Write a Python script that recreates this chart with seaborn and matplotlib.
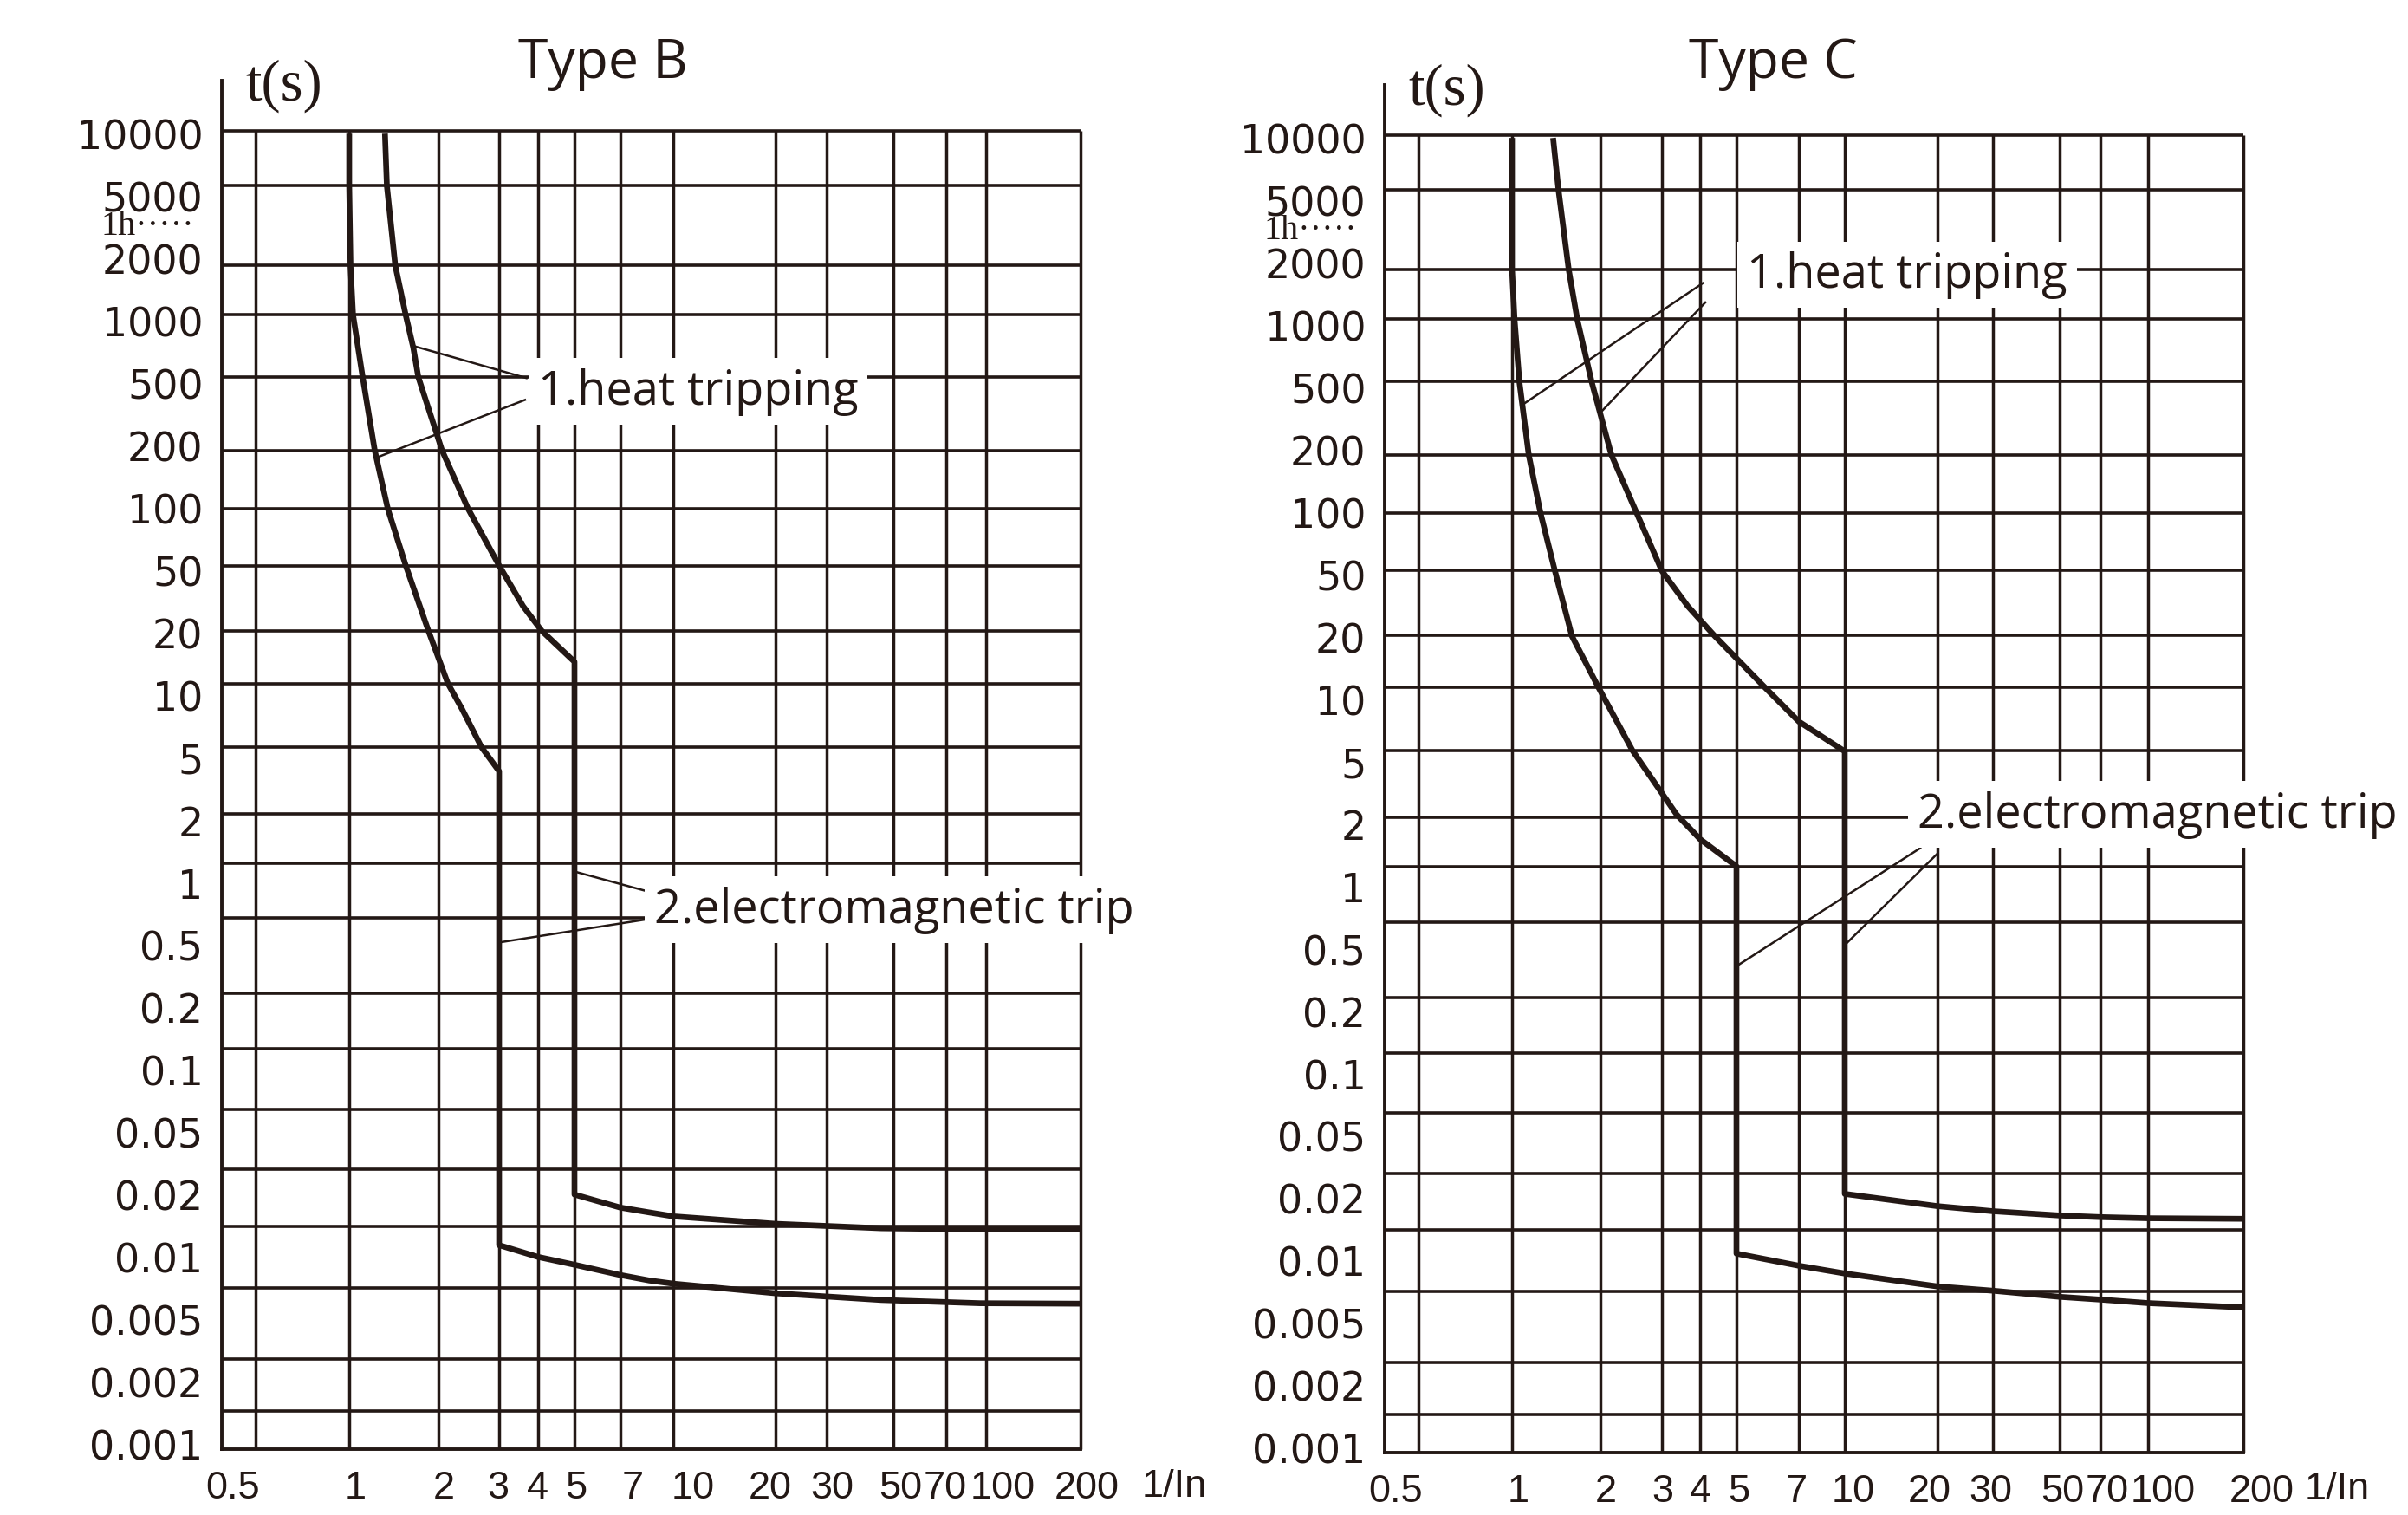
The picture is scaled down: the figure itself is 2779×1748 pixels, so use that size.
import numpy as np
import matplotlib
matplotlib.use("Agg")
import matplotlib.pyplot as plt
import matplotlib.transforms as mtransforms
from matplotlib.ticker import NullLocator
import seaborn as sns

# 1. DATA
# time axis (s): labels are evenly spaced, 1-2-5 steps
T_TICKS = [10000, 5000, 2000, 1000, 500, 200, 100, 50, 20, 10, 5, 2, 1,
           0.5, 0.2, 0.1, 0.05, 0.02, 0.01, 0.005, 0.002, 0.001]
T_LABELS = ['10000', '5000', '2000', '1000', '500', '200', '100', '50', '20', '10',
            '5', '2', '1', '0.5', '0.2', '0.1', '0.05', '0.02', '0.01', '0.005',
            '0.002', '0.001']
# current axis (multiple of In)
I_TICKS = [0.5, 1, 2, 3, 4, 5, 7, 10, 20, 30, 50, 70, 100, 200]
I_LABELS = ['0.5', '1', '2', '3', '4', '5', '7', '10', '20', '30', '50', '70', '100', '200']

# Type B: lower curve (1) and upper curve (2)
B1_X = [1.0, 1.0, 1.01, 1.03, 1.11, 1.22, 1.35, 1.55, 1.85, 2.13, 2.34, 2.67, 3.0,
        3.0, 4.0, 5.0, 7.0, 8.5, 10, 20, 45.6, 94.7, 200]
B1_T = [10000, 5600, 1850, 1070, 536, 189, 99, 53, 20.6, 11.4, 8.6, 5.6, 4.1,
        0.0114, 0.0100, 0.00917, 0.00818, 0.0077, 0.00743, 0.00668, 0.0062, 0.00598, 0.00595]
B2_X = [1.32, 1.34, 1.43, 1.55, 1.645, 1.71, 2.05, 2.44, 3.0, 3.58, 4.09, 5.0,
        5.0, 7.0, 8.5, 10, 20, 45.6, 94.7, 200]
B2_T = [10000, 5600, 1850, 1070, 743, 536, 189, 99, 52.8, 29.6, 20.6, 14.5,
        0.0200, 0.0173, 0.0164, 0.0157, 0.01445, 0.01375, 0.01358, 0.01356]

# Type C: lower curve (1) and upper curve (2)
C1_X = [1.0, 1.0, 1.0, 1.02, 1.06, 1.14, 1.25, 1.40, 1.60, 1.97, 2.47, 3.35, 4.0, 5.0,
        5.0, 7.0, 10, 20, 30, 50, 70, 100, 200]
C1_T = [10000, 5600, 1850, 1056, 528, 189, 99, 52, 20.2, 11.4, 5.66, 2.30, 1.69, 1.25,
        0.0108, 0.00944, 0.00866, 0.0075, 0.00715, 0.00668, 0.00648, 0.00623, 0.00594]
C2_X = [1.38, 1.44, 1.56, 1.67, 1.87, 2.15, 2.54, 3.0, 3.65, 4.38, 5.78, 7.0, 10.0,
        10.0, 20, 30, 50, 70, 100, 200]
C2_T = [10000, 5600, 1850, 1056, 528, 189, 99, 52, 31.3, 20.2, 11.6, 7.8, 5.6,
        0.0213, 0.0183, 0.0173, 0.0165, 0.0162, 0.0160, 0.0159]

HEAT_TEXT = '1.heat tripping'
MAG_TEXT = '2.electromagnetic trip'

# 2. LAYOUT / STYLE
INK = '#231815'
# rows (in label steps from the 10000 label) where the hand drawn grid lines sit
GRID_ROWS = [-0.04, 0.83, 2.11, 2.90, 3.90, 5.08, 6.01, 6.93, 7.97, 8.81, 9.83, 10.9,
             11.69, 12.57, 13.78, 14.67, 15.63, 16.6, 17.51, 18.5, 19.64, 20.47]
ROW_TOP, ROW_BOTTOM = -0.85, 21.08
# pixel columns of the hand drawn vertical lines (one per current tick)
X_LINES_B = [295, 403, 506, 576, 621, 663, 716, 777, 895, 954, 1031, 1092, 1138, 1247]
X_LINES_C = [1637, 1745, 1847, 1918, 1962, 2004, 2076, 2129, 2236, 2300, 2377, 2424, 2479, 2589]
SPINE_OFFSET_PX = -39
X_SHIFT_B = [-26, 7, 6, -1, 0, 2, 14, 23, -6, 6, 8, -1, 19, 7]
X_SHIFT_C = [-26, 7, 6, 1, 1, 3, -3, 10, -9, -3, 3, 8, 17, 21]

# time scale: every 1-2-5 step gets the same height
T_STEPS = [1e5, 5e4, 2e4] + T_TICKS + [5e-4, 2e-4, 1e-4]
STEP_LOG = np.log10(T_STEPS)[::-1]
STEP_POS = (3 - np.arange(len(T_STEPS)))[::-1].astype(float)


def t_forward(v):
    v = np.clip(np.asarray(v, dtype=float), 1e-12, None)
    return np.interp(np.log10(v), STEP_LOG, STEP_POS)


def t_inverse(p):
    return 10 ** np.interp(np.asarray(p, dtype=float), STEP_POS, STEP_LOG)


def make_x_scale(lines):
    # log-like current axis following the drawn vertical lines
    lg = np.log10(I_TICKS)
    rel = np.asarray(lines, dtype=float) - lines[0]
    lg = np.r_[2 * lg[0] - lg[1], lg, 2 * lg[-1] - lg[-2]]
    rel = np.r_[2 * rel[0] - rel[1], rel, 2 * rel[-1] - rel[-2]]

    def fwd(v):
        v = np.clip(np.asarray(v, dtype=float), 1e-12, None)
        return np.interp(np.log10(v), lg, rel)

    def inv(p):
        return 10 ** np.interp(np.asarray(p, dtype=float), rel, lg)
    return fwd, inv


def on_curve(xs, ts, t):
    # x of a curve at time t (curves fall monotonically in t)
    lx = np.interp(np.log10(t), np.log10(ts)[::-1], np.log10(xs)[::-1])
    return 10 ** lx, t


sns.set_theme(style="white")
plt.rcParams['font.family'] = ['DejaVu Sans']

fig = plt.figure(figsize=(27.79, 17.49), dpi=100)

panels = [
    dict(rect=[256 / 2779, 1 - 1673 / 1749, 991 / 2779, 1579 / 1749],
         title='Type B', title_xy=(0.444, 1.0025),
         x_lines=X_LINES_B, x_shift=X_SHIFT_B,
         curves=[(B1_X, B1_T), (B2_X, B2_T)],
         heat=dict(xy=(4.0, 445), leaders=[(1, 758, (3.7, 528)), (0, 175, (3.66, 394))]),
         mag=dict(xy=(8.8, 0.74), leaders=[(1, 1.13, (8.54, 0.90)), (0, 0.514, (8.54, 0.668))])),
    dict(rect=[1598 / 2779, 1 - 1677 / 1749, 991 / 2779, 1578 / 1749],
         title='Type C', title_xy=(0.452, 1.0057),
         x_lines=X_LINES_C, x_shift=X_SHIFT_C,
         curves=[(C1_X, C1_T), (C2_X, C2_T)],
         heat=dict(xy=(5.29, 1750), leaders=[(0, 387, (4.09, 1603)), (1, 340, (4.15, 1297))]),
         mag=dict(xy=(17.2, 2.30), leaders=[(0, 0.387, (17.7, 1.54)), (1, 0.521, (20, 1.44))])),
]

for p in panels:
    ax = fig.add_axes(p['rect'])

    for xs, ts in p['curves']:
        sns.lineplot(x=xs, y=ts, ax=ax, sort=False, estimator=None, color=INK,
                     linewidth=4.8, solid_joinstyle='round', solid_capstyle='butt', zorder=3)

    x_fwd, x_inv = make_x_scale(p['x_lines'])
    ax.set_xscale('function', functions=(x_fwd, x_inv))
    ax.set_yscale('function', functions=(t_forward, t_inverse))
    x_left = float(x_inv(SPINE_OFFSET_PX))
    ax.set_xlim(x_left, I_TICKS[-1])
    ax.set_ylim(t_inverse(-ROW_BOTTOM), t_inverse(-ROW_TOP))

    # grid drawn by hand as in the original sheet
    row_vals = t_inverse(-np.array(GRID_ROWS))
    ax.hlines(row_vals, x_left, I_TICKS[-1], colors=INK, linewidth=2.6, zorder=1, clip_on=False)
    ax.vlines(I_TICKS, t_inverse(-ROW_BOTTOM), row_vals[0], colors=INK, linewidth=2.5,
              zorder=1, clip_on=False)

    for side in ['top', 'right']:
        ax.spines[side].set_visible(False)
    for side in ['left', 'bottom']:
        ax.spines[side].set_color(INK)
        ax.spines[side].set_linewidth(2.8)

    ax.tick_params(axis='y', length=0, pad=15.5, colors=INK)
    ax.tick_params(axis='x', length=0, pad=17, colors=INK)
    ax.set_yticks(T_TICKS, T_LABELS, fontsize=33, fontfamily='DejaVu Sans')
    ax.set_xticks(I_TICKS, I_LABELS, fontsize=32.5, fontfamily='Liberation Sans')
    ax.xaxis.set_minor_locator(NullLocator())
    ax.yaxis.set_minor_locator(NullLocator())
    for lab, dx in zip(ax.get_xticklabels(), p['x_shift']):
        lab.set_transform(lab.get_transform() +
                          mtransforms.ScaledTranslation(dx / 100, 0, fig.dpi_scale_trans))
    ax.set_xlabel('')
    ax.set_ylabel('')
    ax.grid(False)

    ax.text(1.109, -0.0266, '1/In', transform=ax.transAxes, ha='center', va='center',
            fontsize=32.5, family='Liberation Sans', color=INK)
    ax.text(0.072, 0.997, 't(s)', transform=ax.transAxes, ha='center', va='center',
            fontsize=48, family='Liberation Serif', color=INK)
    ax.text(p['title_xy'][0], p['title_xy'][1], p['title'], transform=ax.transAxes,
            ha='center', va='baseline', fontsize=45, family='Open Sans', color=INK)
    ax.text(-0.0323, 2870, '1h\u00b7\u00b7\u00b7\u00b7\u00b7',
            transform=mtransforms.blended_transform_factory(ax.transAxes, ax.transData),
            ha='right', va='baseline', fontsize=29, family='Liberation Serif', color=INK)

    for key, label in [('heat', HEAT_TEXT), ('mag', MAG_TEXT)]:
        a = p[key]
        ax.text(a['xy'][0], a['xy'][1], label, ha='left', va='center', fontsize=39,
                family='Open Sans', color=INK, zorder=6, clip_on=False,
                bbox=dict(boxstyle='square,pad=0.2', fc='white', ec='none'))
        for ci, t_on, (tx, tt) in a['leaders']:
            xs, ts = p['curves'][ci]
            cx, ct = on_curve(xs, ts, t_on)
            ax.plot([cx, tx], [ct, tt], color=INK, linewidth=1.8, zorder=4,
                    solid_capstyle='butt', clip_on=False)

fig.savefig('out.png', dpi=100, facecolor='white')
